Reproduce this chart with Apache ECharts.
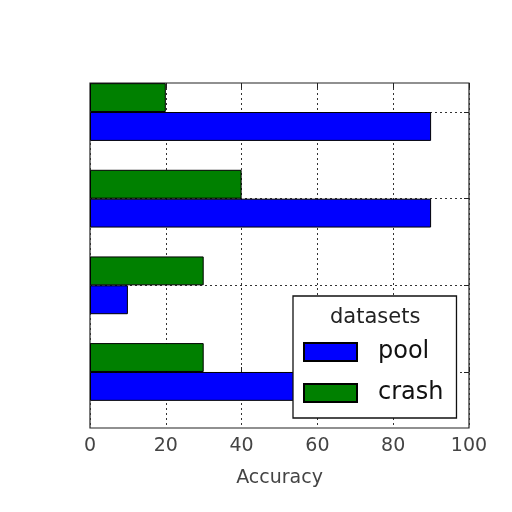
<!DOCTYPE html>
<html><head><meta charset="utf-8">
<script src="https://cdn.jsdelivr.net/npm/echarts@6/dist/echarts.min.js"></script>
<style>html,body{margin:0;padding:0;background:#fff}#c{width:512px;height:512px}</style>
</head><body><div id="c"></div>
<script>
const categories = ['c1', 'c2', 'c3', 'c4'];
const pool = [90, 10, 90, 90];
const crash = [30, 30, 40, 20];
const xMin = 0, xMax = 100, xStep = 20;
const yTicks = [0, 1, 2, 3];
const legendOrder = ['pool', 'crash'];
const legendTitle = 'datasets';
const xName = 'Accuracy';

const font = 'DejaVu Sans';
const chart = echarts.init(document.getElementById('c'), null, {renderer: 'canvas'});
const dotted = {type: [2, 3], color: '#333', width: 1};
const option = {
  animation: false,
  backgroundColor: '#fff',
  textStyle: {fontFamily: font},
  title: {
    text: legendTitle, left: 330, top: 307, padding: 0, z: 10,
    textStyle: {fontSize: 21, fontWeight: 'normal', color: '#222', fontFamily: font}
  },
  legend: {
    data: legendOrder, orient: 'vertical', left: 293, top: 296, icon: 'rect',
    padding: [44, 13, 13, 10], itemWidth: 53, itemHeight: 18, itemGap: 17,
    selectedMode: false, backgroundColor: '#fff', borderColor: '#111', borderWidth: 1.3,
    textStyle: {fontSize: 24, color: '#111', lineHeight: 18, padding: [0, 0, 0, 16], fontFamily: font}
  },
  grid: [
    {left: 90, right: 43, top: 83, bottom: 84, show: true, borderColor: '#222', borderWidth: 1.2, backgroundColor: 'transparent'},
    {left: 90, right: 43, top: 68.7, bottom: 96.7}
  ],
  xAxis: [
    {gridIndex: 0, type: 'value', min: xMin, max: xMax, interval: xStep, position: 'bottom',
     axisLine: {show: false},
     axisTick: {show: true, inside: true, length: 5, lineStyle: {color: '#222'}},
     axisLabel: {fontSize: 19, color: '#444', margin: 9, fontFamily: font},
     splitLine: {show: true, lineStyle: dotted},
     name: xName, nameLocation: 'middle', nameGap: 41,
     nameTextStyle: {fontSize: 19, color: '#444', fontFamily: font}},
    {gridIndex: 0, type: 'value', min: xMin, max: xMax, interval: xStep, position: 'top',
     axisLine: {show: false},
     axisTick: {show: true, inside: true, length: 5, lineStyle: {color: '#222'}},
     axisLabel: {show: false}, splitLine: {show: false}},
    {gridIndex: 1, type: 'value', min: xMin, max: xMax, show: false}
  ],
  yAxis: [
    {gridIndex: 0, type: 'value', min: -0.646, max: 3.335, position: 'right',
     axisLine: {show: false, onZero: false},
     axisTick: {show: true, inside: true, length: 5, customValues: yTicks, lineStyle: {color: '#222'}},
     axisLabel: {show: false},
     splitLine: {show: true, lineStyle: dotted}},
    {gridIndex: 1, type: 'category', data: categories, show: false}
  ],
  series: [
    {name: 'crash', type: 'bar', xAxisIndex: 2, yAxisIndex: 1, data: crash,
     barWidth: '33.33%', barGap: '0%',
     itemStyle: {color: '#008000', borderColor: '#000', borderWidth: 1}},
    {name: 'pool', type: 'bar', xAxisIndex: 2, yAxisIndex: 1, data: pool,
     barWidth: '33.33%', barGap: '0%',
     itemStyle: {color: '#0000ff', borderColor: '#000', borderWidth: 1}}
  ]
};
chart.setOption(option);
</script>
</body></html>
